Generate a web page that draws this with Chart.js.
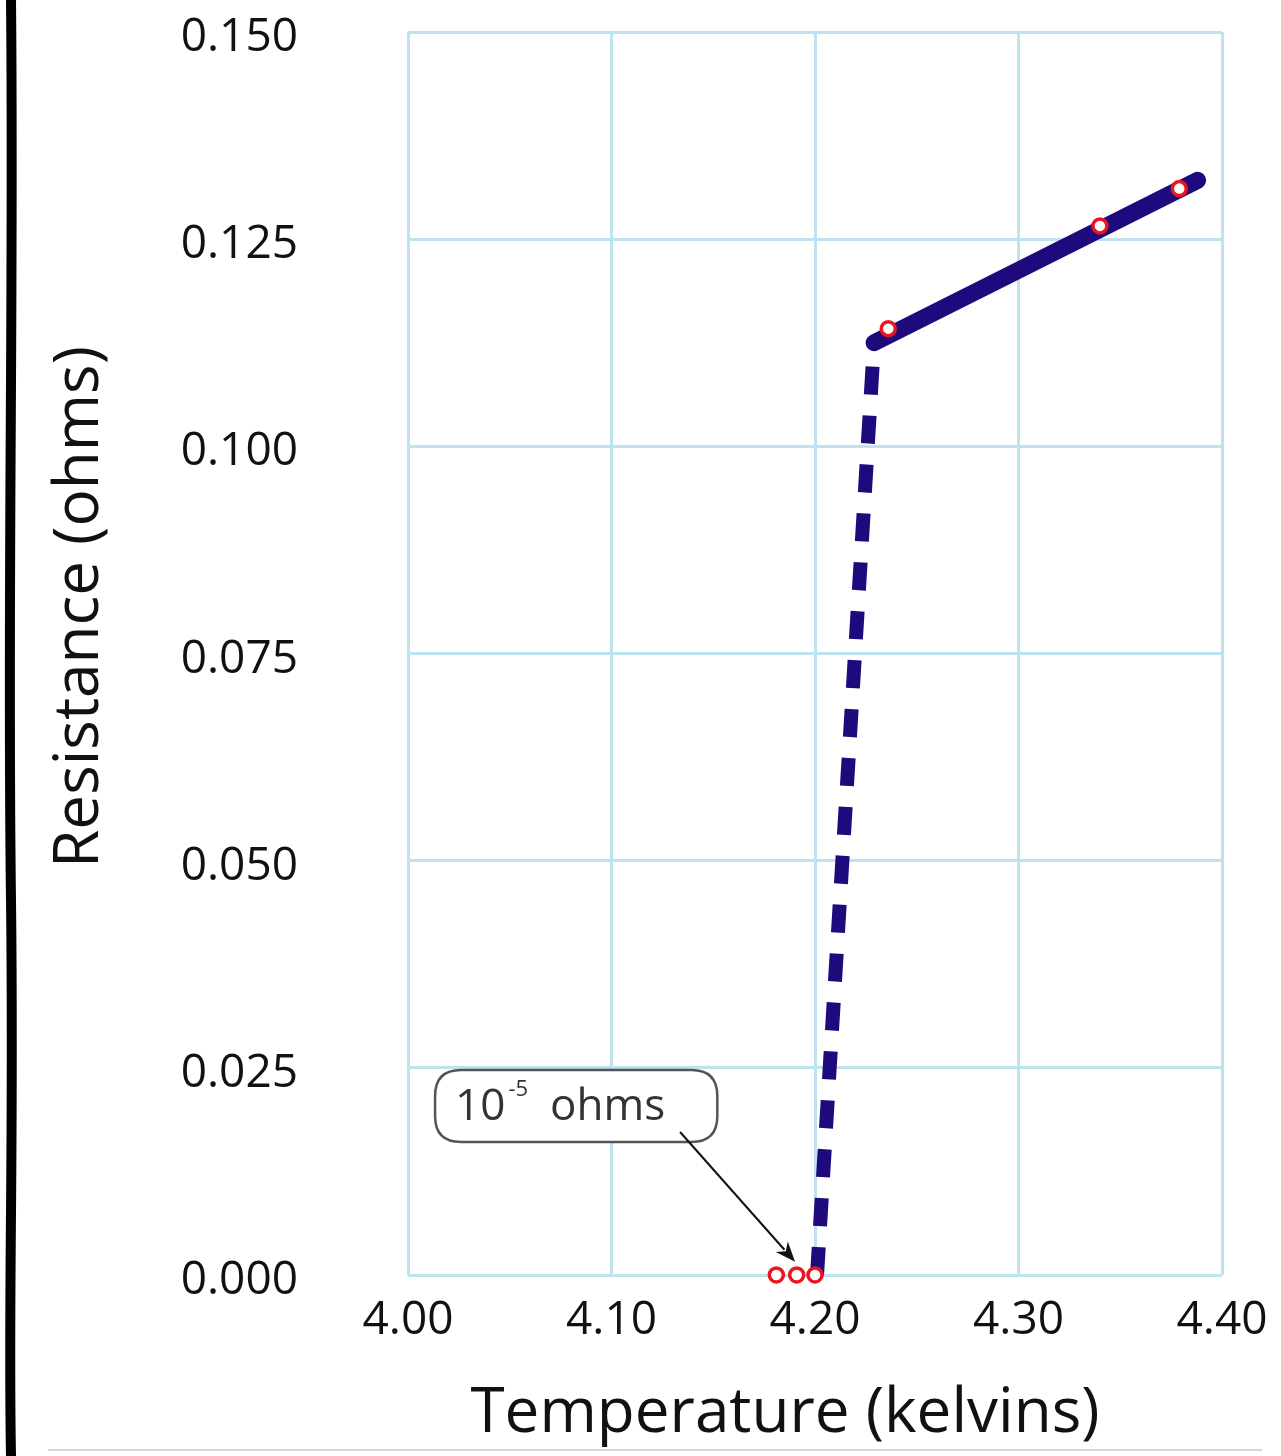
<!DOCTYPE html>
<html>
<head>
<meta charset="utf-8">
<script src="https://cdn.jsdelivr.net/npm/chart.js@4/dist/chart.umd.min.js"></script>
<style>
  html, body { margin: 0; padding: 0; background: #ffffff; }
  #wrap { width: 1281px; height: 1456px; position: relative; }
</style>
</head>
<body>
<div id="wrap"><canvas id="c" width="1281" height="1456"></canvas></div>
<script>
// ---- data ----
const xTickLabels = ['4.00', '4.10', '4.20', '4.30', '4.40'];
const yTickLabels = ['0.000', '0.025', '0.050', '0.075', '0.100', '0.125', '0.150'];
const xTitle = 'Temperature (kelvins)';
const yTitle = 'Resistance (ohms)';

// superconducting transition (dashed)
const transitionT = [4.201, 4.229];
const transitionR = [0.0, 0.1125];

// normal-state resistance (solid)
const normalT = [4.229, 4.388];
const normalR = [0.1125, 0.1321];

// measured points
const measuredT = [4.181, 4.191, 4.200, 4.236, 4.340, 4.379];
const measuredR = [0.00001, 0.00001, 0.00001, 0.1142, 0.1266, 0.1311];

// annotation
const noteText = '10';
const noteSup = '-5';
const noteUnit = 'ohms';
const noteBox = { t0: 4.0133, t1: 4.152, r0: 0.01605, r1: 0.02474 };
const noteArrow = { t0: 4.1337, r0: 0.01726, t1: 4.1902, r1: 0.0016 };

const toPts = (xs, ys) => xs.map((x, i) => ({ x: x, y: ys[i] }));

const FONT = "'Open Sans', 'Noto Sans', sans-serif";
const GRID = '#bde4ee';
const NAVY = '#1e0a7c';
const RED = '#ec1420';

const decor = {
  id: 'decor',
  beforeDraw(chart) {
    const ctx = chart.ctx;
    ctx.save();
    ctx.fillStyle = '#ffffff';
    ctx.fillRect(0, 0, chart.width, chart.height);
    ctx.restore();
  },
  afterDraw(chart) {
    const ctx = chart.ctx;
    const xs = chart.scales.x, ys = chart.scales.y;
    ctx.save();
    // left black border (slightly wavy)
    ctx.strokeStyle = '#000';
    ctx.lineWidth = 10;
    ctx.beginPath();
    ctx.moveTo(11, 0);
    ctx.bezierCurveTo(14, 300, 7, 600, 11, 900);
    ctx.bezierCurveTo(14, 1150, 8, 1300, 11, 1456);
    ctx.stroke();
    // bottom thin grey line
    ctx.strokeStyle = '#d4d4d4';
    ctx.lineWidth = 2;
    ctx.beginPath();
    ctx.moveTo(48, 1450);
    ctx.lineTo(1262, 1450);
    ctx.stroke();

    // axis titles
    ctx.fillStyle = '#111';
    ctx.font = '62px ' + FONT;
    ctx.textAlign = 'center';
    ctx.textBaseline = 'middle';
    ctx.fillText(xTitle, 785, 1414);
    ctx.save();
    ctx.translate(80, 607);
    ctx.rotate(-Math.PI / 2);
    ctx.fillText(yTitle, 0, 0);
    ctx.restore();

    // annotation box
    const bx0 = xs.getPixelForValue(noteBox.t0), bx1 = xs.getPixelForValue(noteBox.t1);
    const by0 = ys.getPixelForValue(noteBox.r1), by1 = ys.getPixelForValue(noteBox.r0);
    const rad = 26;
    ctx.beginPath();
    ctx.moveTo(bx0 + rad, by0);
    ctx.lineTo(bx1 - rad, by0);
    ctx.quadraticCurveTo(bx1, by0, bx1, by0 + rad);
    ctx.lineTo(bx1, by1 - rad);
    ctx.quadraticCurveTo(bx1, by1, bx1 - rad, by1);
    ctx.lineTo(bx0 + rad, by1);
    ctx.quadraticCurveTo(bx0, by1, bx0, by1 - rad);
    ctx.lineTo(bx0, by0 + rad);
    ctx.quadraticCurveTo(bx0, by0, bx0 + rad, by0);
    ctx.closePath();
    ctx.fillStyle = '#ffffff';
    ctx.fill();
    ctx.strokeStyle = '#555';
    ctx.lineWidth = 2.5;
    ctx.stroke();

    // annotation text
    ctx.fillStyle = '#333';
    ctx.textBaseline = 'alphabetic';
    ctx.textAlign = 'left';
    let tx = bx0 + 20;
    const base = by0 + 50;
    ctx.font = '44px ' + FONT;
    ctx.fillText(noteText, tx, base);
    tx += ctx.measureText(noteText).width + 3;
    ctx.font = '22px ' + FONT;
    ctx.fillText(noteSup, tx, base - 24);
    tx += ctx.measureText(noteSup).width + 22;
    ctx.font = '44px ' + FONT;
    ctx.fillText(noteUnit, tx, base);

    // arrow
    const ax0 = xs.getPixelForValue(noteArrow.t0), ay0 = ys.getPixelForValue(noteArrow.r0);
    const ax1 = xs.getPixelForValue(noteArrow.t1), ay1 = ys.getPixelForValue(noteArrow.r1);
    const ang = Math.atan2(ay1 - ay0, ax1 - ax0);
    const hl = 20, hw = 8;
    ctx.strokeStyle = '#111';
    ctx.lineWidth = 2;
    ctx.beginPath();
    ctx.moveTo(ax0, ay0);
    ctx.lineTo(ax1 - hl * 0.8 * Math.cos(ang), ay1 - hl * 0.8 * Math.sin(ang));
    ctx.stroke();
    ctx.fillStyle = '#111';
    ctx.beginPath();
    ctx.moveTo(ax1, ay1);
    ctx.lineTo(ax1 - hl * Math.cos(ang) + hw * Math.sin(ang), ay1 - hl * Math.sin(ang) - hw * Math.cos(ang));
    ctx.lineTo(ax1 - hl * 0.7 * Math.cos(ang), ay1 - hl * 0.7 * Math.sin(ang));
    ctx.lineTo(ax1 - hl * Math.cos(ang) - hw * Math.sin(ang), ay1 - hl * Math.sin(ang) + hw * Math.cos(ang));
    ctx.closePath();
    ctx.fill();
    ctx.restore();
  }
};

new Chart(document.getElementById('c'), {
  type: 'scatter',
  data: {
    datasets: [
      {
        label: 'measured',
        data: toPts(measuredT, measuredR),
        showLine: false,
        pointRadius: 7,
        pointBorderWidth: 3.5,
        pointBorderColor: RED,
        pointBackgroundColor: '#ffffff',
        clip: false,
        order: 0
      },
      {
        label: 'normal',
        data: toPts(normalT, normalR),
        showLine: true,
        borderColor: NAVY,
        borderWidth: 17,
        borderCapStyle: 'round',
        pointRadius: 0,
        clip: false,
        order: 1
      },
      {
        label: 'transition',
        data: toPts(transitionT, transitionR),
        showLine: true,
        borderColor: NAVY,
        borderWidth: 14,
        borderDash: [28, 21],
        borderCapStyle: 'butt',
        pointRadius: 0,
        clip: false,
        order: 2
      }
    ]
  },
  options: {
    responsive: false,
    animation: false,
    devicePixelRatio: 1,
    layout: { padding: { left: 20, top: 32, right: 59, bottom: 0 } },
    plugins: {
      legend: { display: false },
      tooltip: { enabled: false }
    },
    scales: {
      x: {
        type: 'linear',
        min: 4.0,
        max: 4.4,
        afterFit(scale) {
          scale.height = 181;
          scale.paddingLeft = 0; scale.paddingRight = 0;
          scale.paddingTop = 0; scale.paddingBottom = 0;
        },
        afterBuildTicks(scale) {
          scale.ticks = xTickLabels.map(s => ({ value: parseFloat(s) }));
        },
        ticks: {
          padding: 18,
          color: '#111',
          font: { family: FONT, size: 46 },
          maxRotation: 0,
          callback: (v, i) => xTickLabels[i]
        },
        grid: { color: GRID, lineWidth: 3, drawTicks: false },
        border: { display: false },
        title: { display: false }
      },
      y: {
        type: 'linear',
        min: 0,
        max: 0.15,
        afterFit(scale) {
          scale.width = 388;
          scale.paddingLeft = 0; scale.paddingRight = 0;
          scale.paddingTop = 0; scale.paddingBottom = 0;
        },
        afterBuildTicks(scale) {
          scale.ticks = yTickLabels.map(s => ({ value: parseFloat(s) }));
        },
        ticks: {
          padding: 110,
          labelOffset: 6,
          color: '#111',
          font: { family: FONT, size: 46 },
          callback: (v, i) => yTickLabels[i]
        },
        grid: { color: GRID, lineWidth: 3, drawTicks: false },
        border: { display: false },
        title: { display: false }
      }
    }
  },
  plugins: [decor]
});
</script>
</body>
</html>
